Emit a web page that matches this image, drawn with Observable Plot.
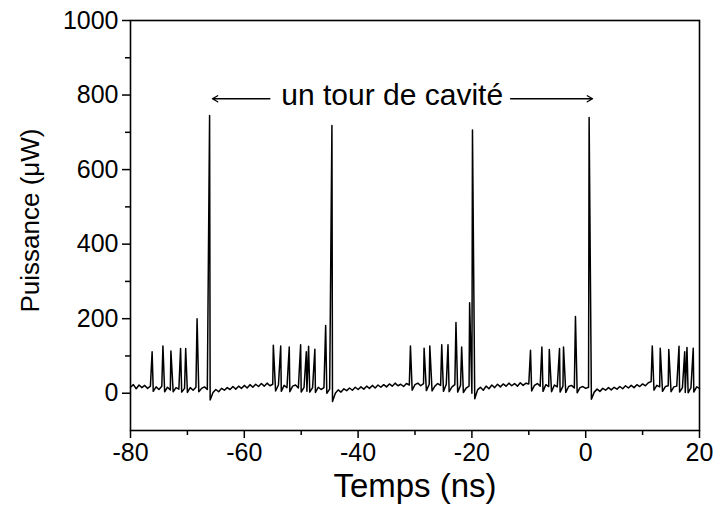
<!DOCTYPE html>
<html><head><meta charset="utf-8">
<script src="https://cdn.jsdelivr.net/npm/d3@7"></script>
<script src="https://cdn.jsdelivr.net/npm/@observablehq/plot@0.6"></script>
<style>body{margin:0;background:#fff} svg{display:block}</style>
</head><body><div id="chart"></div>
<script>
// Background trace, sampled every 0.5 ns from -80 ns to 20 ns (µW)
const baseStart = -80;
const baseStep = 0.5;
const baseline = [
  16, 23, 12, 22, 15, 21, 13, 19, 5, 17,
  10, 19, 4, 16, 9, 4, 15, 11, 3, 13,
  2, 15, 8, 16, 4, 13, 17, 10, -18, 2,
  10, 4, 13, 8, 15, 10, 18, 11, 19, 13,
  21, 14, 23, 16, 24, 18, 26, 19, 27, 20,
  24, 6, 22, 5, 21, 15, 4, 19, 22, 14,
  3, 16, 5, 3, 15, 2, 16, 10, 15, 0,
  11, -22, 0, 9, 3, 12, 7, 14, 8, 16,
  10, 17, 11, 19, 13, 21, 14, 22, 16, 23,
  17, 25, 19, 27, 20, 24, 18, 26, 22, 8,
  23, 27, 20, 26, 7, 24, 6, 19, 26, 21,
  5, 24, 4, 17, 23, 3, 21, 2, 14, 19,
  0, -15, 9, 16, 8, 19, 12, 22, 15, 24,
  17, 25, 19, 27, 20, 26, 19, 28, 21, 27,
  25, 6, 21, 26, 19, 5, 23, 18, 4, 22,
  17, 3, 19, 2, 18, 21, 14, 1, 15, 18,
  13, 16, -16, 3, 11, 5, 13, 8, 15, 9,
  16, 11, 18, 12, 20, 14, 21, 15, 23, 18,
  25, 20, 28, 31, 8, 21, 17, 5, 18, 20,
  4, 17, 19, 3, 15, 2, 1, 15, 3, 17, 13
];
// Pulses (time in ns, peak power in µW)
const peakTime = [
  -76.2, -74.3, -72.9, -71.2, -70.3, -68.3, -66.1,
  -54.9, -53.6, -52.1, -50.1, -49.1, -48.7, -47.6, -45.7, -44.6,
  -30.8, -28.4, -27.4, -25.3, -24.2, -22.8, -21.8, -20.4, -19.9,
  -9.7, -7.7, -6.4, -4.6, -3.9, -1.8, 0.6,
  11.7, 13.1, 14.6, 16.4, 17.4, 17.8, 18.9
];
const peakHeight = [
  111, 127, 113, 120, 120, 200, 745,
  129, 127, 124, 130, 111, 126, 118, 182, 718,
  127, 121, 127, 130, 130, 190, 124, 243, 706,
  115, 124, 117, 120, 124, 206, 740,
  127, 121, 117, 126, 111, 123, 121
];
const xMajor = [-80, -60, -40, -20, 0, 20];
const xMinor = [-70, -50, -30, -10, 10];
const yMajor = [0, 200, 400, 600, 800, 1000];
const yMinor = [100, 300, 500, 700, 900];
const xLabel = "Temps (ns)";
const yLabel = "Puissance (μW)";
const noteText = "un tour de cavité";
const noteAt = {t: -34, p: 798};
const arrowsNote = [
  {t1: -55.5, t2: -65.6, p: 790},
  {t1: -13.2, t2: 1.2, p: 790}
];

const trace = [
  ...baseline.map((p, i) => ({t: baseStart + i * baseStep, p})),
  ...peakTime.map((t, i) => ({t, p: peakHeight[i]}))
].sort((a, b) => a.t - b.t);

const chart = Plot.plot({
  width: 715, height: 518,
  marginLeft: 130, marginRight: 16, marginTop: 20, marginBottom: 88,
  x: {domain: [-80, 20]},
  y: {domain: [-100, 1000]},
  style: {fontFamily: "'Liberation Sans', Arial, sans-serif", color: "black", background: "white"},
  marks: [
    Plot.line(trace, {x: "t", y: "p", stroke: "black", strokeWidth: 1.5}),
    Plot.frame({stroke: "black", strokeWidth: 1.6}),
    Plot.axisX({ticks: xMajor, tickSize: 8, tickPadding: 5, fontSize: 25, tickFormat: d => String(d), label: null, strokeWidth: 1.5}),
    Plot.axisX({ticks: xMinor, tickSize: 5, tickFormat: () => "", label: null, strokeWidth: 1.5}),
    Plot.axisY({ticks: yMajor, tickSize: 8, tickPadding: 4, fontSize: 25, tickFormat: d => String(d), label: null, strokeWidth: 1.5}),
    Plot.axisY({ticks: yMinor, tickSize: 5, tickFormat: () => "", label: null, strokeWidth: 1.5}),
    Plot.text([xLabel], {text: d => d, frameAnchor: "bottom", dy: 66, fontSize: 33}),
    Plot.text([yLabel], {text: d => d, frameAnchor: "left", textAnchor: "middle", dx: -100, dy: -5, rotate: -90, fontSize: 26}),
    Plot.text([noteText], {text: d => d, x: () => noteAt.t, y: () => noteAt.p, fontSize: 30}),
    Plot.arrow(arrowsNote, {x1: "t1", x2: "t2", y1: "p", y2: "p", stroke: "black", strokeWidth: 1.3, headLength: 7})
  ]
});
document.getElementById("chart").append(chart);
</script>
</body></html>
